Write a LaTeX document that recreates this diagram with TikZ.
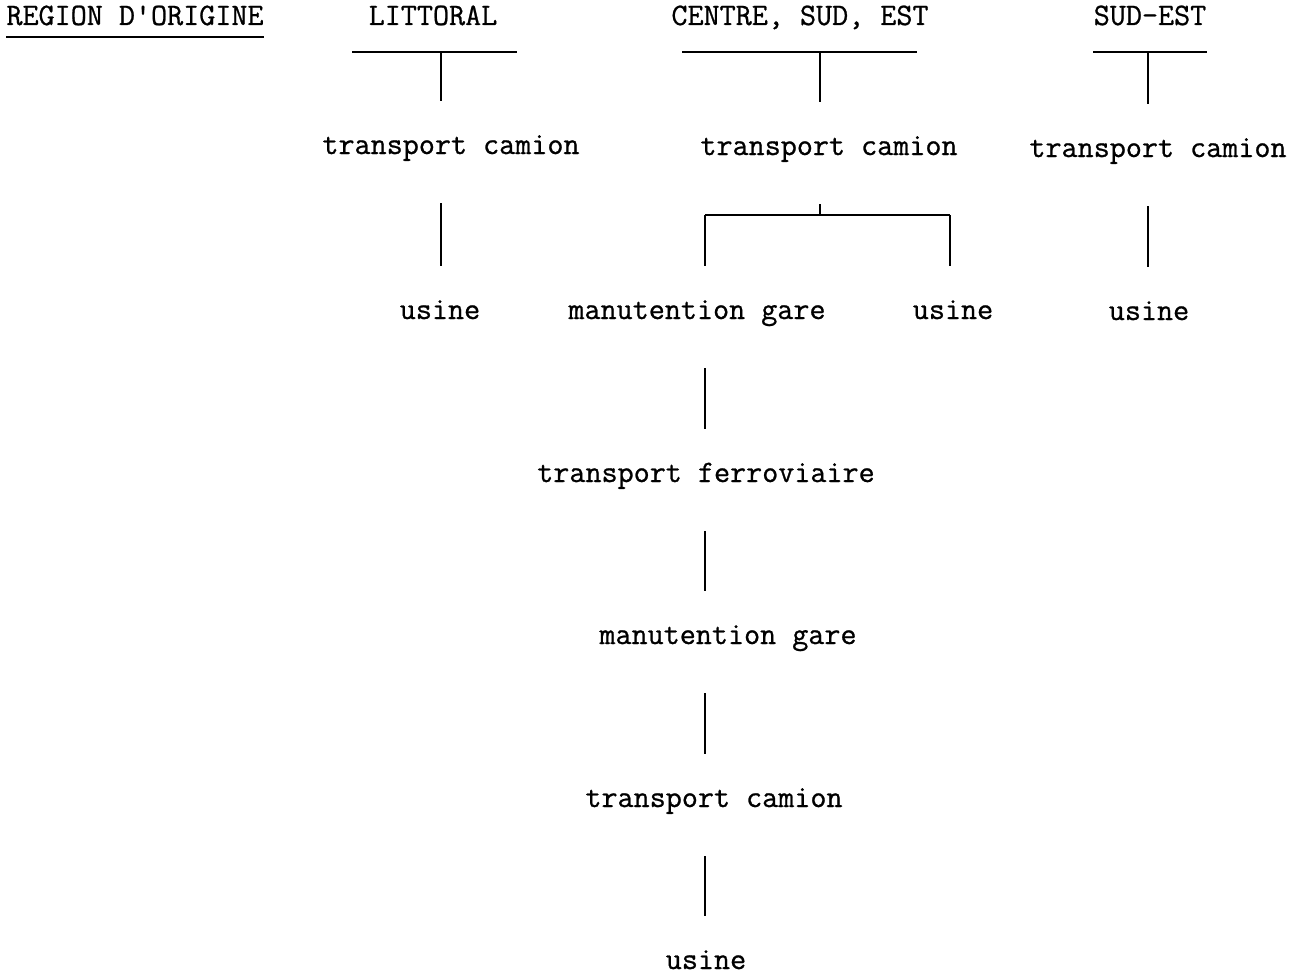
\documentclass[tikz,border=0pt]{standalone}
\usepackage{fontspec}
\newfontfamily\tw[FakeBold=0.8]{Latin Modern Mono}
\usepackage{tikz}

\begin{document}
\begin{tikzpicture}[x=1pt,y=-1pt,
    lbl/.style={inner sep=0pt, text height=19pt, text depth=5pt, font=\tw\fontsize{31.2}{34}\selectfont},
    link/.style={line width=1.6pt, shorten <=44pt, shorten >=34pt},
    bar/.style={line width=1.8pt}]
  \useasboundingbox (0,0) rectangle (1303,974);
  % en-tetes
  \node[lbl] (reg) at (135,18) {REGION D'ORIGINE};
  \node[lbl] (litH) at (433,18) {LITTORAL};
  \node[lbl] (cseH) at (800,18) {CENTRE, SUD, EST};
  \node[lbl] (seH) at (1150,18) {SUD\textendash EST};
  \draw[line width=1.5pt] ([yshift=-7pt]reg.south west) -- ([yshift=-7pt]reg.south east);
  % premier transport
  \node[lbl] (litTC) at (451,147) {transport camion};
  \node[lbl] (cseTC) at (829,148) {transport camion};
  \node[lbl] (seTC) at (1158,150) {transport camion};
  % arrivee
  \node[lbl] (litUS) at (440,312) {usine};
  \node[lbl] (cseMG) at (697,312) {manutention gare};
  \node[lbl] (cseUS) at (953,312) {usine};
  \node[lbl] (seUS) at (1149,313) {usine};
  % chaine ferroviaire
  \node[lbl] (tf) at (706,475) {transport ferroviaire};
  \node[lbl] (mg) at (728,637) {manutention gare};
  \node[lbl] (tc) at (714,800) {transport camion};
  \node[lbl] (us) at (706,962) {usine};
  % jonctions
  \coordinate (litJ) at (441,52);
  \coordinate (cseJ) at (820,52);
  \coordinate (seJ) at (1148,52);
  \coordinate (forkL) at (705,215);
  \coordinate (forkM) at (820,215);
  \coordinate (forkR) at (950,215);
  % barres sous les regions
  \draw[bar] (litJ) ++(-89,0) -- ++(165,0);
  \draw[bar] (cseJ) ++(-138,0) -- ++(235,0);
  \draw[bar] (seJ) ++(-55,0) -- ++(114,0);
  \draw[link, shorten <=0pt] (litJ) -- (litJ |- litTC.north);
  \draw[link, shorten <=0pt] (cseJ) -- (cseJ |- cseTC.north);
  \draw[link, shorten <=0pt] (seJ) -- (seJ |- seTC.north);
  % vers usine / gare
  \draw[link] (litTC.south -| litJ) -- (litUS.north -| litJ);
  \draw[link] (seTC.south -| seJ) -- (seUS.north -| seJ);
  \draw[link, shorten >=0pt] (cseTC.south -| forkM) -- (forkM);
  \draw[bar] (forkL) -- (forkR);
  \draw[link, shorten <=0pt] (forkL) -- (forkL |- cseMG.north);
  \draw[link, shorten <=0pt] (forkR) -- (forkR |- cseUS.north);
  \foreach \a/\b in {cseMG/tf, tf/mg, mg/tc, tc/us}
    \draw[link] (\a.south -| forkL) -- (\b.north -| forkL);
\end{tikzpicture}
\end{document}
